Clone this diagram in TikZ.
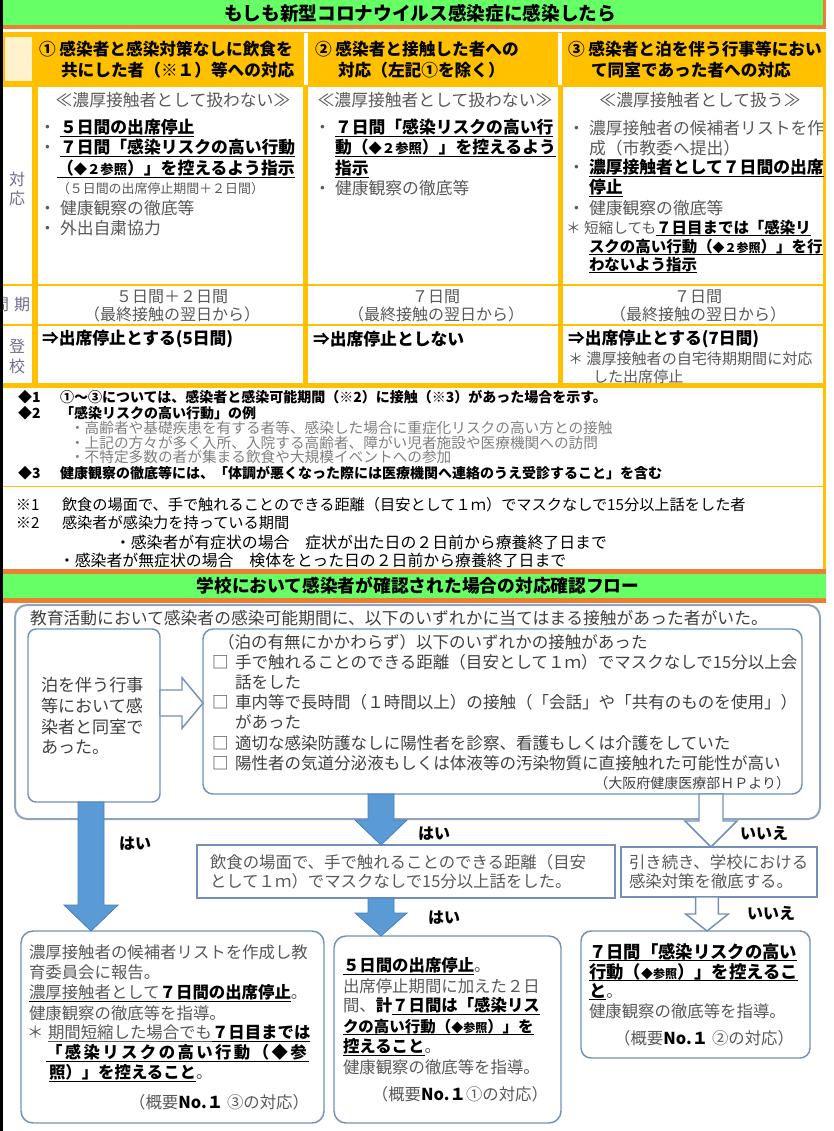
\documentclass[tikz,border=0pt]{standalone}
\usepackage{fontspec}
\setmainfont{Noto Sans CJK JP}
\usetikzlibrary{fit,calc}
\definecolor{greenC}{HTML}{66FF66}
\definecolor{orangeC}{HTML}{ED7D31}
\definecolor{yellowC}{HTML}{FFC000}
\definecolor{creamC}{HTML}{FFF2CC}
\definecolor{gtext}{HTML}{595959}
\definecolor{ltext}{HTML}{7F7F7F}
\definecolor{dtext}{HTML}{404040}
\definecolor{labC}{HTML}{6E6E8E}
\definecolor{bordC}{HTML}{7391B8}
\definecolor{outC}{HTML}{8EA4C0}
\definecolor{blueF}{HTML}{5B9BD5}
\definecolor{blueL}{HTML}{4A7EBB}
\newcommand\fs[1]{\fontsize{#1}{#1}\selectfont}
\newcommand\uln[1]{\setbox0\hbox{#1}\rlap{\rule[-2.2pt]{\wd0}{0.75pt}}\box0}
\newcommand\ulk[1]{\setbox0\hbox{#1}\rlap{\color{black}\rule[-2.2pt]{\wd0}{0.75pt}}\box0}
\newcommand\B[1]{{\bfseries\color{black}#1}}
\newcommand\bu{\makebox[15.75pt][l]{\textcolor{gtext}{\mdseries ・}}}
\newcommand\cb{\makebox[17.25pt][l]{□}}
\newcommand\sm[1]{{\fontsize{10pt}{10pt}\selectfont #1}}
\newcommand\smx[1]{{\fontsize{9pt}{9pt}\selectfont #1}}
\def\spaceout#1{\spaceoutA#1\relax}
\def\spaceoutA#1{\ifx#1\relax\else#1\kern1.8pt\relax\expandafter\spaceoutA\fi}
% vertical block arrow: style, start, end, shaft half, head half, head length
\newcommand\blk[6]{\draw[#1] let \p1=#2, \p2=#3 in
  (\x1-#4,\y1) -- (\x1+#4,\y1) -- (\x1+#4,\y2+#6) -- (\x1+#5,\y2+#6) -- (\x1,\y2)
  -- (\x1-#5,\y2+#6) -- (\x1-#4,\y2+#6) -- cycle;}
\newcommand\blkh[6]{\draw[#1] let \p1=#2, \p2=#3 in
  (\x1,\y1+#4) -- (\x2-#6,\y1+#4) -- (\x2-#6,\y1+#5) -- (\x2,\y1)
  -- (\x2-#6,\y1-#5) -- (\x2-#6,\y1-#4) -- (\x1,\y1-#4) -- cycle;}
\begin{document}
\begin{tikzpicture}[x=0.75pt,y=-0.75pt,
  t/.style={inner sep=0pt, outer sep=0pt, anchor=west,
    execute at begin node={\vrule width0pt height.88em depth.12em\relax}},
  g/.style={t, text=gtext, font=\fs{12.6pt}},
  b/.style={t, text=black, font=\fs{12.6pt}\bfseries},
  hd/.style={t, text=black, font=\fs{12.5pt}\bfseries},
  lab/.style={t, anchor=center, text=labC, font=\fs{12pt}},
  pr/.style={t, anchor=center, text=gtext, font=\fs{12pt}},
  nb/.style={t, text=black, font=\fs{10.5pt}\bfseries},
  nl/.style={t, text=ltext, font=\fs{11pt}},
  nr/.style={t, text=black, font=\fs{11.4pt}},
  nrr/.style={t, text=black, font=\fs{11.9pt}},
  fd/.style={t, text=dtext, font=\fs{12.4pt}},
  fg/.style={t, text=gtext, font=\fs{12.3pt}},
  yes/.style={t, anchor=center, text=black, font=\fs{12pt}\bfseries},
  box/.style={draw=bordC, line width=1.1pt, fill=white, inner sep=0pt, outer sep=0pt, rounded corners=#1},
  box/.default=6pt,
  bluearrow/.style={fill=blueF, draw=blueL, line width=0.6pt},
  hollowarrow/.style={fill=white, draw=bordC, line width=1.1pt, line join=miter}]
\useasboundingbox (0,0) rectangle (834,1131);

% ---------- header 1
\fill[orangeC] (0,0) rectangle (826,29);
\fill[greenC] (0,0) rectangle (823,25);
\node[t, anchor=center, font=\fs{14pt}\bfseries] (title1) at (420,13) {もしも新型コロナウイルス感染症に感染したら};

% ---------- table frame
\fill[yellowC] (3,32) rectangle (826,388);
\fill[creamC] (5,37) rectangle (32,81);
\fill[white] (303.5,33) rectangle (307.5,85);
\fill[white] (558,33) rectangle (562,85);
\foreach \ya/\yb in {87/284, 286/324, 326/383} {
  \fill[white] (3,\ya) rectangle (32,\yb);
  \fill[white] (37.5,\ya) rectangle (303,\yb);
  \fill[white] (308,\ya) rectangle (557.5,\yb);
  \fill[white] (562.5,\ya) rectangle (823,\yb);
}
\fill[yellowC] (823,388) rectangle (826,569);
\fill[yellowC] (3,485.5) rectangle (826,487);

% header row
\node[hd] (h1a) at (39,49) {① 感染者と感染対策なしに飲食を};
\node[hd] (h1b) at (61,70) {共にした者（※１）等への対応};
\node[hd] (h2a) at (315,49) {② 感染者と接触した者への};
\node[hd] (h2b) at (338,70) {対応（左記①を除く）};
\node[hd] (h3a) at (568,49) {③ 感染者と泊を伴う行事等におい};
\node[hd] (h3b) at (591,70) {て同室であった者への対応};

% label column
\node[lab] (l1) at (17,179) {対};
\node[lab] (l2) at (17,198) {応};
\node[lab] (l3) at (22,304) {期};
\node[lab] (l4) at (1,304) {間};
\node[lab] (l5) at (17,346) {登};
\node[lab] (l6) at (17,366) {校};

% column 1
\node[g, anchor=center] (c1a) at (173,100) {≪濃厚接触者として扱わない≫};
\node[g] (c1b) at (39,128) {\bu\B{\uln{５日間の出席停止}}};
\node[g] (c1c) at (39,148) {\bu\B{\uln{７日間「感染リスクの高い行動}}};
\node[b] (c1d) at (57,169) {\uln{（\sm{◆２参照}）」を控えるよう指示}};
\node[g, font=\fs{9.7pt}] (c1e) at (57,189) {（５日間の出席停止期間＋２日間）};
\node[g] (c1f) at (39,208) {\bu 健康観察の徹底等};
\node[g] (c1g) at (39,228) {\bu 外出自粛協力};

% column 2
\node[g, anchor=center] (c2a) at (435,100) {≪濃厚接触者として扱わない≫};
\node[g] (c2b) at (314,128) {\bu\B{\uln{７日間「感染リスクの高い行}}};
\node[b] (c2c) at (335,148) {\uln{動（\sm{◆２参照}）」を控えるよう}};
\node[b] (c2d) at (335,169) {\uln{指示}};
\node[g] (c2e) at (314,188) {\bu 健康観察の徹底等};

% column 3
\node[g, anchor=center] (c3a) at (700,100) {≪濃厚接触者として扱う≫};
\node[g] (c3b) at (568,128) {\bu 濃厚接触者の候補者リストを作};
\node[g] (c3c) at (589,148) {成（市教委へ提出）};
\node[g] (c3d) at (568,168) {\bu\B{\uln{濃厚接触者として７日間の出席}}};
\node[b] (c3e) at (589,188) {\uln{停止}};
\node[g] (c3f) at (568,208) {\bu 健康観察の徹底等};
\node[g, font=\fs{11pt}] (c3g) at (566,228) {\makebox[13.5pt][l]{＊}短縮しても{\fs{11.6pt}\B{\uln{７日目までは「感染リ}}}};
\node[b, font=\fs{11.6pt}\bfseries] (c3h) at (589,247) {\uln{スクの高い行動（\smx{◆２参照}）」を行}};
\node[b, font=\fs{11.6pt}\bfseries] (c3i) at (589,265) {\uln{わないよう指示}};

% period row
\node[pr] (p1a) at (172,296) {５日間＋２日間};
\node[pr] (p1b) at (172,314) {（最終接触の翌日から）};
\node[pr] (p2a) at (436,296) {７日間};
\node[pr] (p2b) at (436,314) {（最終接触の翌日から）};
\node[pr] (p3a) at (698,296) {７日間};
\node[pr] (p3b) at (698,314) {（最終接触の翌日から）};

% attendance row
\node[b] (a1) at (42,339) {⇒出席停止とする(5日間)};
\node[b] (a2) at (313,339) {⇒出席停止としない};
\node[b] (a3) at (568,339) {⇒出席停止とする(7日間)};
\node[g, font=\fs{11.3pt}] (a3b) at (568,359) {＊ 濃厚接触者の自宅待期期間に対応};
\node[g, font=\fs{11.3pt}] (a3c) at (593,377) {した出席停止};

% notes 1
\node[nb] (n1) at (18,397) {◆1};
\node[nb] (n1t) at (60,397) {①～③については、感染者と感染可能期間（※2）に接触（※3）があった場合を示す。};
\node[nb] (n2) at (18,413) {◆2};
\node[nb] (n2t) at (60,413) {「感染リスクの高い行動」の例};
\node[nl] (n2a) at (70,428) {・高齢者や基礎疾患を有する者等、感染した場合に重症化リスクの高い方との接触};
\node[nl] (n2b) at (70,443) {・上記の方々が多く入所、入院する高齢者、障がい児者施設や医療機関への訪問};
\node[nl] (n2c) at (70,457) {・不特定多数の者が集まる飲食や大規模イベントへの参加};
\node[nb] (n3) at (18,473) {◆3};
\node[nb] (n3t) at (60,473) {健康観察の徹底等には、「体調が悪くなった際には医療機関へ連絡のうえ受診すること」を含む};

% notes 2
\node[nr] (m1) at (16,505) {※1};
\node[nr] (m1t) at (62,505) {飲食の場面で、手で触れることのできる距離（目安として１ｍ）でマスクなしで15分以上話をした者};
\node[nr] (m2) at (16,523) {※2};
\node[nr] (m2t) at (62,523) {感染者が感染力を持っている期間};
\node[nrr] (m2a) at (115,542) {・感染者が有症状の場合　症状が出た日の２日前から療養終了日まで};
\node[nrr] (m2b) at (59,560) {・感染者が無症状の場合　検体をとった日の２日前から療養終了日まで};

% ---------- header 2
\fill[orangeC] (0,569) rectangle (826,603);
\fill[greenC] (0,574) rectangle (826,598);
\node[t, anchor=center, font=\fs{13.3pt}\bfseries] (title2) at (418,586) {学校において感染者が確認された場合の対応確認フロー};

% ---------- flow boxes
\node[box=9pt, draw=outC, line width=1.5pt, fit={(15,605) (820,819)}] (outer) {};
\node[box=6pt, fit={(28,629) (160,802)}] (boxL) {};
\node[box=7.5pt, fit={(203,629) (802,794)}] (boxR) {};
\node[box=0pt, fit={(197,845) (615,898)}] (boxM) {};
\node[box=0pt, fit={(621,847) (817,897)}] (boxN) {};
\node[box=9pt, fit={(21,931) (324,1123)}] (boxA) {};
\node[box=9pt, fit={(334,936) (561,1123)}] (boxB) {};
\node[box=7.5pt, fit={(581,931) (810,1058)}] (boxC) {};

% arrows
\coordinate (ax1) at (91,0);
\coordinate (ax2) at (381,0);
\coordinate (ax3) at (711,0);
\coordinate (ax4) at (707,0);
\coordinate (ay) at (0,703);
\blkh{hollowarrow}{(boxL.east |- ay)}{(boxR.west |- ay)}{9.75pt}{19pt}{15.75pt}
\blk{bluearrow}{(ax1 |- boxL.south)}{(ax1 |- boxA.north)}{9.75pt}{20.25pt}{19.5pt}
\blk{bluearrow}{(ax2 |- boxR.south)}{(ax2 |- boxM.north)}{9.75pt}{19.5pt}{18.75pt}
\blk{hollowarrow}{(ax3 |- boxR.south)}{(ax3 |- boxN.north)}{9pt}{19.5pt}{19.5pt}
\blk{bluearrow}{(ax2 |- boxM.south)}{(ax2 |- boxB.north)}{9.75pt}{19.5pt}{17.25pt}
\blk{hollowarrow}{(ax4 |- boxN.south)}{(ax4 |- boxC.north)}{8.6pt}{16pt}{12.75pt}

% arrow labels
\node[yes] (y1) at (135,843) {はい};
\node[yes] (y2) at (434,833) {はい};
\node[yes] (y3) at (444,917) {はい};
\node[yes] (no1) at (764,833) {いいえ};
\node[yes] (no2) at (771,913) {いいえ};

% flow texts
\node[fd, font=\fs{12.6pt}] (f0) at (30,618) {教育活動において感染者の感染可能期間に、以下のいずれかに当てはまる接触があった者がいた。};
\node[fd, font=\fs{12.8pt}] (fl1) at (41,685) {泊を伴う行事};
\node[fd, font=\fs{12.8pt}] (fl2) at (41,706) {等において感};
\node[fd, font=\fs{12.8pt}] (fl3) at (41,727) {染者と同室で};
\node[fd, font=\fs{12.8pt}] (fl4) at (41,747) {あった。};

\node[fd] (r0) at (218,642) {（泊の有無にかかわらず）以下のいずれかの接触があった};
\node[fd] (r1) at (212,662) {\cb 手で触れることのできる距離（目安として１ｍ）でマスクなしで15分以上会};
\node[fd] (r1b) at (235,682) {話をした};
\node[fd] (r2) at (212,702) {\cb 車内等で長時間（１時間以上）の接触（「会話」や「共有のものを使用」）};
\node[fd] (r2b) at (235,722) {があった};
\node[fd] (r3) at (212,743) {\cb 適切な感染防護なしに陽性者を診察、看護もしくは介護をしていた};
\node[fd] (r4) at (212,763) {\cb 陽性者の気道分泌液もしくは体液等の汚染物質に直接触れた可能性が高い};
\node[fd, anchor=east, font=\fs{10.5pt}] (r5) at (790,783) {（大阪府健康医療部ＨＰより）};

\node[fg] (mb1) at (210,862) {飲食の場面で、手で触れることのできる距離（目安};
\node[fg] (mb2) at (210,881) {として１ｍ）でマスクなしで15分以上話をした。};
\node[fg] (nb1) at (629,862) {引き続き、学校における};
\node[fg] (nb2) at (629,881) {感染対策を徹底する。};

% box A
\node[fg] (A1) at (29,952) {濃厚接触者の候補者リストを作成し教};
\node[fg] (A2) at (29,972) {育委員会に報告。};
\node[fg] (A3) at (29,993) {\ulk{濃厚接触者として\B{７日間の出席停止}}。};
\node[fg] (A4) at (29,1013) {健康観察の徹底等を指導。};
\node[fg] (A5) at (27,1033) {\makebox[15.75pt][l]{＊}\uln{期間短縮した場合でも}\B{\uln{７日目までは}}};
\node[fg] (A6) at (46,1053) {\B{\uln{\spaceout{「感染リスクの高い行動（◆参}}}};
\node[fg] (A7) at (49,1073) {\B{\uln{照）」を控えること}}。};
\node[fg, anchor=east] (A8) at (309,1102) {（概要\B{No.１} ③の対応）};

% box B
\node[fg] (B1) at (343,966) {\B{\uln{５日間の出席停止}}。};
\node[fg] (B2) at (343,986) {出席停止期間に加えた２日};
\node[fg] (B3) at (343,1006) {間、\B{計}\B{\uln{７日間は「感染リス}}};
\node[fg, font=\fs{11.6pt}] (B4) at (343,1027) {\B{\uln{クの高い行動（\smx{◆参照}）」を}}};
\node[fg] (B5) at (343,1047) {\B{\uln{控えること}}。};
\node[fg] (B6) at (343,1067) {健康観察の徹底等を指導。};
\node[fg, anchor=east] (B7) at (548,1094) {（概要\B{No.１}①の対応）};

% box C
\node[fg, font=\fs{13pt}] (C1) at (589,952) {\B{\uln{７日間「感染リスクの高い}}};
\node[fg, font=\fs{13pt}] (C2) at (589,972) {\B{\uln{行動（\smx{◆参照}）」を控えるこ}}};
\node[fg, font=\fs{13pt}] (C3) at (589,991) {\B{\uln{と}}\fs{12.3pt}。};
\node[fg] (C4) at (589,1011) {健康観察の徹底等を指導。};
\node[fg, anchor=east] (C5) at (794,1038) {（概要\B{No.１} ②の対応）};

% left edge
\fill[black] (0,0) rectangle (3,1131);
\end{tikzpicture}
\end{document}
